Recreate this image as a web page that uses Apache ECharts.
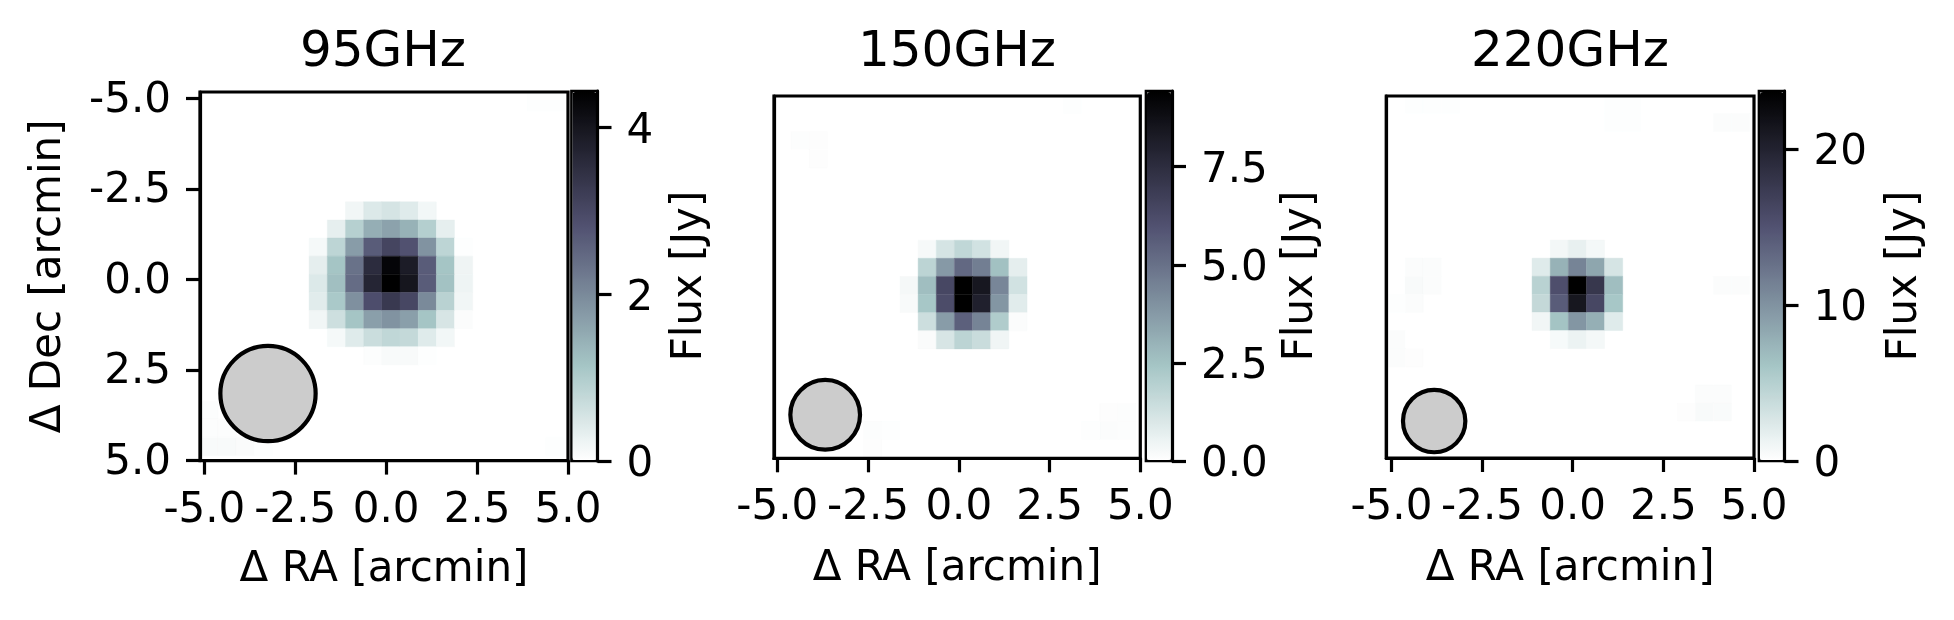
<!DOCTYPE html>
<html><head><meta charset="utf-8">
<style>html,body{margin:0;padding:0;background:#fff}#c{width:1954px;height:620px}</style>
<script src="https://cdn.jsdelivr.net/npm/echarts@6/dist/echarts.min.js"></script>
</head><body><div id="c"></div>
<script>
// ---------- Data (flux in Jy) ----------
const titles = ['95GHz', '150GHz', '220GHz'];
const spatialTicks = [-5, -2.5, 0, 2.5, 5];
const cbarTicks95 = [0, 2, 4];
const cbarTicks150 = [0, 2.5, 5, 7.5];
const cbarTicks220 = [0, 10, 20];
const vmax95 = 4.44, vmax150 = 9.43, vmax220 = 23.7;

// central blocks; first cell is at pixel index (col, row) of the map
const core95Origin = [6, 6];
const core95 = [
  [0, 0, .18, .44, .53, .40, .16, 0, 0],
  [0, .31, .93, 1.47, 1.64, 1.42, .95, .31, 0],
  [.13, .84, 1.73, 2.66, 3.06, 2.82, 1.86, .84, .02],
  [.33, 1.15, 2.35, 3.55, 4.33, 3.89, 2.66, 1.15, .20],
  [.44, 1.24, 2.42, 3.69, 4.44, 4.00, 2.66, 1.18, .22],
  [.38, 1.07, 1.91, 2.89, 3.29, 3.02, 2.00, .89, .18],
  [.18, .64, 1.15, 1.69, 1.86, 1.69, 1.15, .51, .05],
  [0, .13, .40, .67, .80, .75, .40, .16, 0],
  [0, 0, 0, .04, .09, .09, .02, 0, 0]
];
const core150Origin = [7, 8];
const core150 = [
  [0, .24, 1.13, 1.70, 1.23, .38, 0],
  [0, 1.79, 3.77, 5.28, 4.62, 2.55, .71],
  [.28, 2.64, 6.41, 9.43, 8.44, 4.34, 1.23],
  [.19, 2.36, 6.22, 9.43, 8.06, 3.87, .80],
  [0, 1.37, 3.68, 5.52, 4.43, 2.12, .11],
  [0, .14, 1.08, 1.79, 1.46, .42, 0]
];
const core220Origin = [8, 8];
const core220 = [
  [0, .83, 1.54, .71, 0],
  [2.13, 7.58, 11.14, 8.53, 2.84],
  [4.74, 15.4, 23.7, 17.8, 6.64],
  [4.03, 14.2, 21.3, 16.1, 5.93],
  [.95, 6.16, 9.72, 7.82, 2.13],
  [0, .59, 1.30, .71, 0]
];
// faint background pixels: [col, row, flux]
const faint95 = [[0,19,.09],[1,19,.09],[2,19,.07],[3,19,.02],[0,17,.04],[0,18,.04],[1,18,.04],[19,19,.02],[18,0,.02],[19,0,.02]];
const faint150 = [[18,18,.12],[19,18,.08],[19,17,.08],[18,17,.06],[17,18,.04],[5,18,.08],[5,19,.06],[6,18,.04],[1,2,.07],[2,2,.06],[2,3,.06],[16,0,.04]];
const faint220 = [[1,10,.5],[1,9,.3],[2,9,.3],[2,10,.3],[1,11,.25],[0,11,.1],[17,16,.3],[18,16,.3],[17,17,.5],[18,17,.45],[16,17,.15],[18,1,.25],[19,1,.25],[1,0,.1],[2,0,.1],[3,0,.1],[12,0,.1],[13,0,.1],[12,1,.1],[13,1,.1],[0,13,.25],[0,14,.25],[1,14,.15],[18,10,.25],[19,10,.25]];
// beam: centre x, centre y, radius (arcmin)
const beam95 = [-3.25, 3.15, 1.31];
const beam150 = [-3.68, 3.80, 0.96];
const beam220 = [-3.82, 3.98, 0.86];

// ---------- Layout / style ----------
const PIX = 0.5;
const layouts = [
  {grid:[200,92,368,368.6], cb:[571.5,91,26,370], xr:[-5.12,5], yr:[-5.17,5], xEdge:-5.12, yEdge:-5.14, titleX:383, yLabels:true, xGap:88, cbGap:72},
  {grid:[774,96,366.3,362.3], cb:[1146,91,26,370], xr:[-5.09,5], yr:[-5,5], xEdge:-5.12, yEdge:-5.02, titleX:957, yLabels:false, xGap:90, cbGap:108},
  {grid:[1386.3,96,367.7,362], cb:[1759,91,25.5,370], xr:[-5.14,5], yr:[-5,5], xEdge:-5.12, yEdge:-5.02, titleX:1570, yLabels:false, xGap:90, cbGap:100}
];
const FONT = 'DejaVu Sans';
const TICK = 42, LABEL = 42, TITLE = 50, LW = 3.2;

// bone_r colormap
const stops = [[0,[255,255,255]],[.254,[166,198,198]],[.635,[81,81,113]],[1,[0,0,0]]];
const bone = [];
for (let i = 0; i <= 128; i++) {
  const t = i / 128;
  let s = 0; while (s < stops.length - 2 && t > stops[s + 1][0]) s++;
  const f = (t - stops[s][0]) / (stops[s + 1][0] - stops[s][0]);
  const c = stops[s][1].map((v, n) => Math.round(v + (stops[s + 1][1][n] - v) * f));
  bone.push(`rgb(${c.join(',')})`);
}

function cells(core, origin, faint) {
  const out = [];
  core.forEach((row, j) => row.forEach((v, i) => { if (v > 0) out.push([origin[0] + i, origin[1] + j, v]); }));
  faint.forEach(p => out.push(p));
  return out;
}
const panels = [
  {cells: cells(core95, core95Origin, faint95), beam: beam95, vmax: vmax95, ticks: cbarTicks95, dec: 0},
  {cells: cells(core150, core150Origin, faint150), beam: beam150, vmax: vmax150, ticks: cbarTicks150, dec: 1},
  {cells: cells(core220, core220Origin, faint220), beam: beam220, vmax: vmax220, ticks: cbarTicks220, dec: 0}
];

const opt = {animation:false, backgroundColor:'#fff', textStyle:{fontFamily:FONT},
  title:[], grid:[], xAxis:[], yAxis:[], series:[], visualMap:[]};
const tickStyle = {show:true, length:14, inside:false, lineStyle:{color:'#000', width:LW}};
const lineStyle = {show:true, onZero:false, lineStyle:{color:'#000', width:LW}};
const shifted = (top) => ({a:{padding:[top,0,0,0], fontFamily:FONT, fontSize:TICK, color:'#000'}});

panels.forEach((p, n) => {
  const L = layouts[n];
  const g = opt.grid.length;
  opt.title.push({text:titles[n], left:L.titleX, top:28, textAlign:'center', padding:0,
    textStyle:{fontFamily:FONT, fontSize:TITLE, fontWeight:'normal', color:'#000'}});
  // image axes
  opt.grid.push({show:true, left:L.grid[0], top:L.grid[1], width:L.grid[2], height:L.grid[3],
    borderColor:'#000', borderWidth:LW, containLabel:false, z:3});
  opt.xAxis.push({type:'value', gridIndex:g, min:L.xr[0], max:L.xr[1], position:'bottom', z:4,
    name:'Δ RA [arcmin]', nameLocation:'middle', nameGap:L.xGap,
    nameTextStyle:{fontFamily:FONT, fontSize:LABEL, color:'#000'},
    splitLine:{show:false}, axisLine:lineStyle,
    axisTick:Object.assign({customValues:spatialTicks}, tickStyle),
    axisLabel:{customValues:spatialTicks, margin:29, fontFamily:FONT, fontSize:TICK, color:'#000', formatter:v => v.toFixed(1)}});
  opt.yAxis.push({type:'value', gridIndex:g, min:L.yr[0], max:L.yr[1], inverse:true, position:'left', z:4,
    name:L.yLabels ? 'Δ Dec [arcmin]' : '', nameLocation:'middle', nameGap:130, nameRotate:90,
    nameTextStyle:{fontFamily:FONT, fontSize:LABEL, color:'#000'},
    splitLine:{show:false}, axisLine:lineStyle,
    axisTick:L.yLabels ? Object.assign({customValues:spatialTicks}, tickStyle) : {show:false},
    axisLabel:L.yLabels ? {customValues:spatialTicks, margin:29, rich:shifted(5), fontFamily:FONT, fontSize:TICK, color:'#000', formatter:v => `{a|${v.toFixed(1)}}`} : {show:false}});
  const heatIndex = opt.series.length;
  opt.series.push({type:'custom', xAxisIndex:g, yAxisIndex:g, clip:true, silent:true, z:1,
    data:p.cells, encode:{x:0, y:1},
    renderItem:(params, api) => {
      const x0 = L.xEdge + api.value(0) * PIX, y0 = L.yEdge + api.value(1) * PIX;
      const a = api.coord([x0, y0]), b = api.coord([x0 + PIX, y0 + PIX]);
      const fill = api.visual('color');
      return {type:'rect', shape:{x:Math.min(a[0], b[0]), y:Math.min(a[1], b[1]), width:Math.abs(b[0] - a[0]), height:Math.abs(b[1] - a[1])},
        style:{fill:fill, stroke:fill, lineWidth:.4}};
    }});
  opt.series.push({type:'custom', xAxisIndex:g, yAxisIndex:g, clip:true, silent:true, z:2,
    data:[p.beam], encode:{x:0, y:1},
    renderItem:(params, api) => {
      const c = api.coord([api.value(0), api.value(1)]);
      const r = api.size([api.value(2), 0])[0];
      return {type:'circle', shape:{cx:c[0], cy:c[1], r:r}, style:{fill:'#cccccc', stroke:'#000', lineWidth:4.2}};
    }});
  // colour bar
  const gc = opt.grid.length;
  opt.grid.push({show:true, left:L.cb[0], top:L.cb[1], width:L.cb[2], height:L.cb[3],
    borderColor:'#000', borderWidth:LW - .5, containLabel:false, z:1});
  opt.xAxis.push({type:'value', gridIndex:gc, min:0, max:1, show:false});
  opt.yAxis.push({type:'value', gridIndex:gc, min:0, max:p.vmax, position:'right', z:6,
    name:'Flux [Jy]', nameLocation:'middle', nameRotate:90, nameGap:L.cbGap,
    nameTextStyle:{fontFamily:FONT, fontSize:LABEL, color:'#000'},
    splitLine:{show:false}, axisLine:lineStyle,
    axisTick:Object.assign({customValues:p.ticks}, tickStyle),
    axisLabel:{customValues:p.ticks, margin:29, rich:shifted(9), fontFamily:FONT, fontSize:TICK, color:'#000', formatter:v => `{a|${v.toFixed(p.dec)}}`}});
  opt.visualMap.push({type:'continuous', seriesIndex:heatIndex, dimension:2, min:0, max:p.vmax,
    orient:'vertical', left:L.cb[0] + 1, top:L.cb[1] + 1, itemWidth:L.cb[2] - 2, itemHeight:L.cb[3] - 2,
    padding:0, calculable:false, text:null, showLabel:false, inRange:{color:bone}});
});

const chart = echarts.init(document.getElementById('c'), null, {renderer:'canvas'});
chart.setOption(opt);
</script></body></html>
